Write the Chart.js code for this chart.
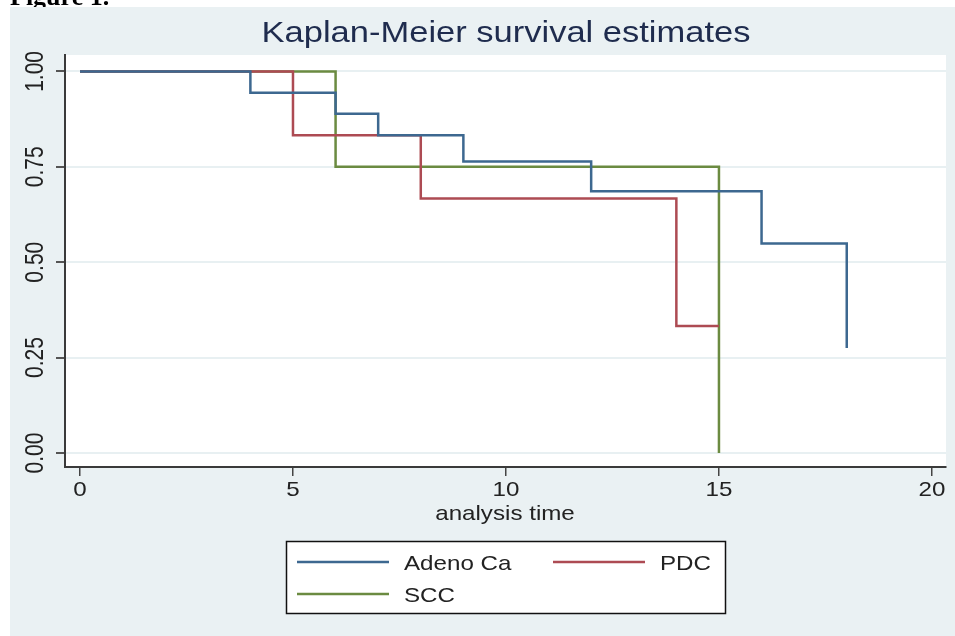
<!DOCTYPE html>
<html>
<head>
<meta charset="utf-8">
<script src="https://cdn.jsdelivr.net/npm/chart.js@4/dist/chart.umd.min.js"></script>
<style>
  html, body { margin: 0; padding: 0; background: #ffffff; }
  #wrap { position: relative; width: 955px; height: 636px; }
  canvas { display: block; }
</style>
</head>
<body>
<div id="wrap"><canvas id="c" width="955" height="636"></canvas></div>
<script>
// ---- data ----
const chartTitle = 'Kaplan-Meier survival estimates';
const figureLabel = 'Figure 1.';
const xAxisTitle = 'analysis time';
const seriesNames = ['Adeno Ca', 'PDC', 'SCC'];
const adenoTimes = [0, 4, 6, 7, 9, 12, 16, 18];
const adenoSurv  = [1, 0.944, 0.889, 0.833, 0.764, 0.686, 0.549, 0.275];
const pdcTimes   = [0, 5, 8, 14, 15];
const pdcSurv    = [1, 0.833, 0.667, 0.333, 0.333];
const sccTimes   = [0, 6, 15];
const sccSurv    = [1, 0.75, 0];
const xTicks = [0, 5, 10, 15, 20];
const xTickLabels = ['0', '5', '10', '15', '20'];
const yTicks = [0, 0.25, 0.5, 0.75, 1];
const yTickLabels = ['0.00', '0.25', '0.50', '0.75', '1.00'];

// ---- styles ----
const colors = ['#3d6890', '#ad4b53', '#6b8b41'];
const FONT = '"Liberation Sans", Arial, sans-serif';
const SX = 1.15; // horizontal stretch of the reference text

function pts(t, s) { return t.map((v, i) => ({ x: v, y: s[i] })); }

function stretchedText(ctx, text, x, y, opts) {
  ctx.save();
  ctx.translate(x, y);
  ctx.scale(opts.sx || SX, 1);
  if (opts.rot) ctx.rotate(opts.rot);
  ctx.font = opts.font;
  ctx.fillStyle = opts.color || '#222';
  ctx.textAlign = opts.align || 'left';
  ctx.textBaseline = opts.baseline || 'alphabetic';
  ctx.fillText(text, 0, 0);
  ctx.restore();
}

const bgPlugin = {
  id: 'bg',
  beforeDraw(chart) {
    const ctx = chart.ctx;
    const a = chart.chartArea;
    ctx.save();
    // figure caption (partly hidden by the graph region)
    ctx.font = 'bold 26px "Liberation Serif", "Times New Roman", serif';
    ctx.fillStyle = '#000';
    ctx.textBaseline = 'alphabetic';
    ctx.fillText(figureLabel, 10, 5);
    // graph background
    ctx.fillStyle = '#eaf1f3';
    ctx.fillRect(10, 7, chart.width - 10, chart.height - 7);
    // plot region
    ctx.fillStyle = '#ffffff';
    ctx.fillRect(a.left, a.top, a.right - a.left, a.bottom - a.top);
    ctx.restore();
  }
};

const textPlugin = {
  id: 'texts',
  afterDraw(chart) {
    const ctx = chart.ctx;
    const xs = chart.scales.x, ys = chart.scales.y;
    // title
    stretchedText(ctx, chartTitle, 506, 42, { font: '30px ' + FONT, color: '#1f2c4e', align: 'center' });
    // x tick labels
    xTicks.forEach((v, i) => {
      stretchedText(ctx, xTickLabels[i], xs.getPixelForValue(v), 496, { font: '21px ' + FONT, color: '#222', align: 'center' });
    });
    // y tick labels (rotated)
    yTicks.forEach((v, i) => {
      stretchedText(ctx, yTickLabels[i], 43, ys.getPixelForValue(v), { font: '21px ' + FONT, color: '#222', align: 'center', rot: -Math.PI / 2, sx: 1.2 });
    });
    // x axis title
    stretchedText(ctx, xAxisTitle, 505, 520, { font: '21px ' + FONT, color: '#222', align: 'center' });

    // legend
    ctx.save();
    ctx.fillStyle = '#ffffff';
    ctx.fillRect(286, 541, 440, 73);
    ctx.strokeStyle = '#111';
    ctx.lineWidth = 1.5;
    ctx.strokeRect(286.5, 541.5, 439, 72);
    const slots = [
      { lx: 297, ly: 562, tx: 404 },
      { lx: 553, ly: 562, tx: 660 },
      { lx: 297, ly: 594, tx: 404 }
    ];
    chart.data.datasets.forEach((ds, i) => {
      const s = slots[i];
      ctx.strokeStyle = ds.borderColor;
      ctx.lineWidth = 2.5;
      ctx.beginPath();
      ctx.moveTo(s.lx, s.ly);
      ctx.lineTo(s.lx + 92, s.ly);
      ctx.stroke();
      stretchedText(ctx, ds.label, s.tx, s.ly + 7.5, { font: '21px ' + FONT, color: '#222', align: 'left' });
    });
    ctx.restore();
  }
};

const ctx = document.getElementById('c').getContext('2d');
new Chart(ctx, {
  type: 'line',
  data: {
    datasets: [
      { label: seriesNames[0], data: pts(adenoTimes, adenoSurv), borderColor: colors[0] },
      { label: seriesNames[1], data: pts(pdcTimes, pdcSurv), borderColor: colors[1] },
      { label: seriesNames[2], data: pts(sccTimes, sccSurv), borderColor: colors[2] }
    ].map(d => Object.assign(d, { stepped: 'before', borderWidth: 2.5, pointRadius: 0, fill: false, tension: 0 }))
  },
  options: {
    responsive: false,
    animation: false,
    devicePixelRatio: 1,
    layout: { padding: { left: 0, top: 55, right: 9, bottom: 0 } },
    plugins: { legend: { display: false }, title: { display: false }, tooltip: { enabled: false } },
    scales: {
      x: {
        type: 'linear',
        min: -0.352,
        max: 20.33,
        afterBuildTicks: s => { s.ticks = xTicks.map(v => ({ value: v })); },
        afterFit: s => { s.height = 169; },
        ticks: { display: false },
        grid: { drawOnChartArea: false, drawTicks: true, tickLength: 9, tickColor: '#444', lineWidth: 1.5 },
        border: { display: true, color: '#3a3a3a', width: 2 }
      },
      y: {
        type: 'linear',
        min: -0.0367,
        max: 1.043,
        afterBuildTicks: s => { s.ticks = yTicks.map(v => ({ value: v })); },
        afterFit: s => { s.width = 65; },
        ticks: { display: false },
        grid: { drawOnChartArea: true, drawTicks: true, tickLength: 9, color: '#e8f0f2', tickColor: '#555', lineWidth: 2 },
        border: { display: true, color: '#3a3a3a', width: 2 }
      }
    }
  },
  plugins: [bgPlugin, textPlugin]
});
</script>
</body>
</html>
